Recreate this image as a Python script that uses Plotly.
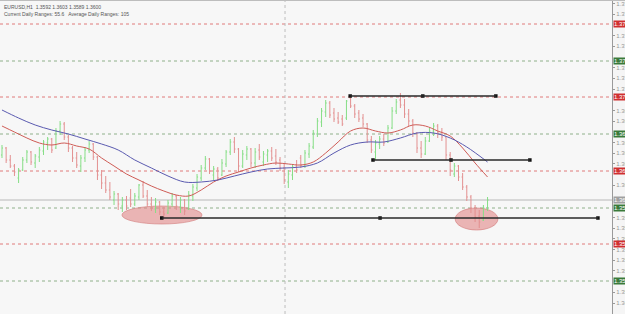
import plotly.graph_objects as go

# ---------------- data (EURUSD H1) ----------------
bar_open = [1.3645,1.3652,1.3640,1.3634,1.3622,1.3630,1.3640,1.3648,1.3637,1.3643,
            1.3649,1.3657,1.3661,1.3652,1.3669,1.3676,1.3663,1.3652,1.3642,1.3634,
            1.3642,1.3650,1.3656,1.3643,1.3625,1.3617,1.3610,1.3600,1.3606,1.3594,
            1.3600,1.3602,1.3596,1.3603,1.3615,1.3604,1.3596,1.3591,1.3598,1.3588,
            1.3587,1.3596,1.3604,1.3593,1.3600,1.3591,1.3604,1.3612,1.3622,1.3632,
            1.3641,1.3625,1.3631,1.3625,1.3636,1.3648,1.3658,1.3651,1.3634,1.3645,
            1.3651,1.3637,1.3650,1.3638,1.3645,1.3649,1.3644,1.3640,1.3632,1.3618,
            1.3625,1.3634,1.3642,1.3635,1.3646,1.3653,1.3666,1.3678,1.3688,1.3697,
            1.3687,1.3682,1.3681,1.3682,1.3702,1.3694,1.3687,1.3682,1.3676,1.3660,
            1.3648,1.3656,1.3661,1.3658,1.3672,1.3689,1.3700,1.3695,1.3686,1.3679,
            1.3667,1.3652,1.3646,1.3659,1.3669,1.3674,1.3668,1.3663,1.3645,1.3626,
            1.3634,1.3623,1.3613,1.3603,1.3592,1.3584,1.3580,1.3592]
bar_high = [1.3655,1.3653,1.3645,1.3636,1.3632,1.3643,1.3650,1.3649,1.3646,1.3653,
            1.3660,1.3663,1.3662,1.3672,1.3679,1.3678,1.3665,1.3654,1.3648,1.3645,
            1.3653,1.3659,1.3657,1.3644,1.3630,1.3624,1.3618,1.3609,1.3607,1.3603,
            1.3604,1.3611,1.3607,1.3616,1.3619,1.3610,1.3603,1.3602,1.3599,1.3593,
            1.3600,1.3607,1.3605,1.3603,1.3601,1.3609,1.3616,1.3626,1.3635,1.3644,
            1.3642,1.3634,1.3633,1.3641,1.3650,1.3661,1.3663,1.3652,1.3650,1.3654,
            1.3652,1.3652,1.3656,1.3649,1.3651,1.3653,1.3651,1.3643,1.3636,1.3630,
            1.3636,1.3640,1.3645,1.3650,1.3657,1.3670,1.3682,1.3692,1.3700,1.3699,
            1.3692,1.3688,1.3685,1.3700,1.3705,1.3696,1.3690,1.3686,1.3677,1.3664,
            1.3660,1.3664,1.3666,1.3675,1.3693,1.3701,1.3707,1.3701,1.3691,1.3681,
            1.3668,1.3659,1.3663,1.3672,1.3677,1.3676,1.3672,1.3663,1.3648,1.3637,
            1.3635,1.3627,1.3615,1.3605,1.3595,1.3590,1.3595,1.3603]
bar_low = [1.3642,1.3637,1.3632,1.3624,1.3617,1.3629,1.3637,1.3635,1.3632,1.3638,
           1.3645,1.3650,1.3647,1.3651,1.3665,1.3660,1.3648,1.3638,1.3632,1.3628,
           1.3638,1.3647,1.3640,1.3620,1.3611,1.3607,1.3600,1.3595,1.3590,1.3588,
           1.3590,1.3593,1.3594,1.3600,1.3602,1.3593,1.3589,1.3587,1.3585,1.3582,
           1.3586,1.3593,1.3590,1.3587,1.3585,1.3590,1.3599,1.3609,1.3619,1.3630,
           1.3626,1.3620,1.3619,1.3624,1.3633,1.3645,1.3647,1.3628,1.3632,1.3640,
           1.3633,1.3632,1.3640,1.3634,1.3638,1.3639,1.3635,1.3629,1.3616,1.3612,
           1.3620,1.3627,1.3632,1.3632,1.3642,1.3651,1.3663,1.3673,1.3683,1.3682,
           1.3678,1.3676,1.3674,1.3680,1.3692,1.3682,1.3678,1.3673,1.3657,1.3647,
           1.3640,1.3651,1.3654,1.3657,1.3671,1.3686,1.3692,1.3682,1.3674,1.3663,
           1.3647,1.3642,1.3645,1.3658,1.3664,1.3662,1.3659,1.3640,1.3624,1.3623,
           1.3619,1.3610,1.3599,1.3587,1.3578,1.3572,1.3579,1.3589]
bar_close = [1.3652,1.3640,1.3634,1.3628,1.3630,1.3640,1.3648,1.3638,1.3644,1.3650,
             1.3658,1.3661,1.3650,1.3669,1.3676,1.3663,1.3652,1.3642,1.3635,1.3642,
             1.3650,1.3656,1.3643,1.3625,1.3617,1.3610,1.3603,1.3606,1.3596,1.3600,
             1.3594,1.3596,1.3604,1.3615,1.3604,1.3596,1.3592,1.3598,1.3588,1.3586,
             1.3597,1.3604,1.3594,1.3600,1.3589,1.3605,1.3613,1.3623,1.3632,1.3641,
             1.3629,1.3631,1.3622,1.3637,1.3648,1.3658,1.3651,1.3634,1.3646,1.3651,
             1.3637,1.3648,1.3643,1.3646,1.3649,1.3642,1.3638,1.3632,1.3620,1.3626,
             1.3633,1.3630,1.3635,1.3647,1.3654,1.3667,1.3679,1.3689,1.3697,1.3685,
             1.3681,1.3678,1.3676,1.3699,1.3694,1.3686,1.3681,1.3676,1.3660,1.3650,
             1.3657,1.3661,1.3657,1.3672,1.3689,1.3698,1.3695,1.3686,1.3679,1.3667,
             1.3652,1.3646,1.3659,1.3669,1.3674,1.3667,1.3663,1.3645,1.3630,1.3634,
             1.3623,1.3613,1.3603,1.3592,1.3583,1.3578,1.3592,1.3600]

ma_fast_idx = [0,3,6,9,12,15,18,21,24,27,30,33,36,39,42,45,48,51,54,57,60,63,66,69,72,75,
               78,81,84,87,90,93,96,99,102,105,108,111,114,117]
ma_fast_val = [1.3674,1.3668,1.3662,1.3657,1.3655,1.3657,1.3654,1.3651,1.3642,1.3634,
               1.3626,1.3620,1.3614,1.3609,1.3605,1.3604,1.3610,1.3618,1.3624,1.3628,
               1.3632,1.3635,1.3637,1.3636,1.3635,1.3638,1.3647,1.3658,1.3669,1.3672,
               1.3669,1.3667,1.3670,1.3675,1.3674,1.3669,1.3664,1.3652,1.3637,1.3623]
ma_slow_idx = [0,4,8,12,16,20,24,28,32,36,40,44,48,52,56,60,64,68,72,76,80,84,88,92,96,
               100,104,108,112,117]
ma_slow_val = [1.3690,1.3682,1.3675,1.3670,1.3666,1.3661,1.3656,1.3650,1.3640,1.3632,
               1.3624,1.3618,1.3618,1.3620,1.3624,1.3628,1.3631,1.3632,1.3633,1.3637,
               1.3647,1.3655,1.3658,1.3658,1.3662,1.3667,1.3667,1.3662,1.3653,1.3638]

level_prices = [1.3776, 1.3739, 1.3703, 1.3666, 1.3629, 1.3592, 1.3556, 1.3519]
level_kinds = ["r", "g", "r", "g", "r", "g", "r", "g"]
level_labels = ["1.37760", "1.37390", "1.37030", "1.36660", "1.36290", "1.35920", "1.35560", "1.35190"]
bid_price = 1.3600
bid_label = "1.36000"

# drawn horizontal objects: (price, start bar, mid bar, end bar)
hlines = [(1.3582, 38.5, 91.1, 143.6), (1.3704, 83.9, 101.4, 119.0), (1.3640, 89.4, 108.2, 127.2)]
# ellipses: (bar0, bar1, price_low, price_high)
ellipses = [(28.9, 48.2, 1.3576, 1.3594), (109.2, 119.5, 1.3570, 1.3592)]
separator_bar = 68.2

title1 = "EURUSD,H1  1.3592 1.3603 1.3589 1.3600"
title2 = "Current Daily Ranges: 55.6   Average Daily Ranges: 105"

# ---------------- figure ----------------
idx = list(range(len(bar_open)))
fig = go.Figure()

fig.add_trace(go.Ohlc(x=idx, open=bar_open, high=bar_high, low=bar_low, close=bar_close,
                      increasing_line_color="#86de86", decreasing_line_color="#e39090",
                      line_width=1, tickwidth=0.25, showlegend=False, hoverinfo="skip"))
fig.add_trace(go.Scatter(x=ma_fast_idx, y=ma_fast_val, mode="lines",
                         line=dict(color="#cf5c56", width=1, shape="spline", smoothing=1.0),
                         showlegend=False, hoverinfo="skip"))
fig.add_trace(go.Scatter(x=ma_slow_idx, y=ma_slow_val, mode="lines",
                         line=dict(color="#5a5ab0", width=1, shape="spline", smoothing=1.0),
                         showlegend=False, hoverinfo="skip"))

shapes = []
annotations = []
red_c, green_c = "#e07a7a", "#8fb08a"
for p, k, lab in zip(level_prices, level_kinds, level_labels):
    col = red_c if k == "r" else green_c
    shapes.append(dict(type="line", xref="paper", x0=0, x1=1, yref="y", y0=p, y1=p,
                       line=dict(color=col, width=1, dash="dot"), layer="below"))
    annotations.append(dict(xref="paper", x=1, xanchor="left", xshift=1, yref="y", y=p,
                            text=lab, showarrow=False, bgcolor=("#d03030" if k == "r" else "#3a7a3a"),
                            font=dict(size=6, color="white", family="Arial"), borderpad=0))

shapes.append(dict(type="line", xref="paper", x0=0, x1=1, yref="y", y0=bid_price, y1=bid_price,
                   line=dict(color="#b8b8b8", width=1), layer="below"))
annotations.append(dict(xref="paper", x=1, xanchor="left", xshift=1, yref="y", y=bid_price,
                        text=bid_label, showarrow=False, bgcolor="#a0a0a0",
                        font=dict(size=6, color="white", family="Arial"), borderpad=0))

shapes.append(dict(type="line", xref="x", x0=separator_bar, x1=separator_bar, yref="paper", y0=0, y1=1,
                   line=dict(color="#bdbdbd", width=1, dash="dot"), layer="below"))

for (b0, b1, p0, p1) in ellipses:
    shapes.append(dict(type="circle", xref="x", yref="y", x0=b0, x1=b1, y0=p0, y1=p1,
                       fillcolor="rgba(225,135,135,0.6)", line=dict(color="rgba(210,120,120,0.6)", width=1),
                       layer="below"))

dot_x, dot_y = [], []
for (p, s, m, e) in hlines:
    shapes.append(dict(type="line", xref="x", yref="y", x0=s, x1=e, y0=p, y1=p,
                       line=dict(color="#2a2a2a", width=1.5)))
    dot_x += [s, m, e]
    dot_y += [p, p, p]
fig.add_trace(go.Scatter(x=dot_x, y=dot_y, mode="markers",
                         marker=dict(color="#111", size=3.5, symbol="square"),
                         showlegend=False, hoverinfo="skip"))

# top border
shapes.append(dict(type="line", xref="paper", x0=0, x1=1.05, yref="paper", y0=1, y1=1,
                   line=dict(color="#bdbdbd", width=2)))

annotations.append(dict(xref="paper", yref="paper", x=0.003, y=0.995, xanchor="left", yanchor="top",
                        text=title1 + "<br>" + title2, showarrow=False, align="left",
                        font=dict(size=5, color="#555", family="Arial")))

# axis ticks: regular grid of price labels, skipping those hidden under level boxes
marked = level_prices + [bid_price]
tick_vals = []
t = 1.3497
while t < 1.3800:
    if all(abs(t - m) > 0.0005 for m in marked):
        tick_vals.append(round(t, 5))
    t += 0.00107

fig.update_layout(
    width=625, height=314,
    margin=dict(l=0, r=13, t=0, b=0),
    paper_bgcolor="#f5f5f5", plot_bgcolor="#f7f7f7",
    shapes=shapes, annotations=annotations,
    showlegend=False,
    xaxis=dict(range=[-0.48, 146.99], showgrid=False, zeroline=False, showticklabels=False,
               rangeslider=dict(visible=False), showline=False, fixedrange=True),
    yaxis=dict(range=[1.3486, 1.3800], side="right", showgrid=False, zeroline=False,
               tickvals=tick_vals, tickformat=".5f", ticks="outside", ticklen=2,
               tickcolor="#999", tickfont=dict(size=6, color="#999", family="Arial"),
               showline=True, linecolor="#9a9a9a", linewidth=1, automargin=False),
)

fig.write_html("out.html")
